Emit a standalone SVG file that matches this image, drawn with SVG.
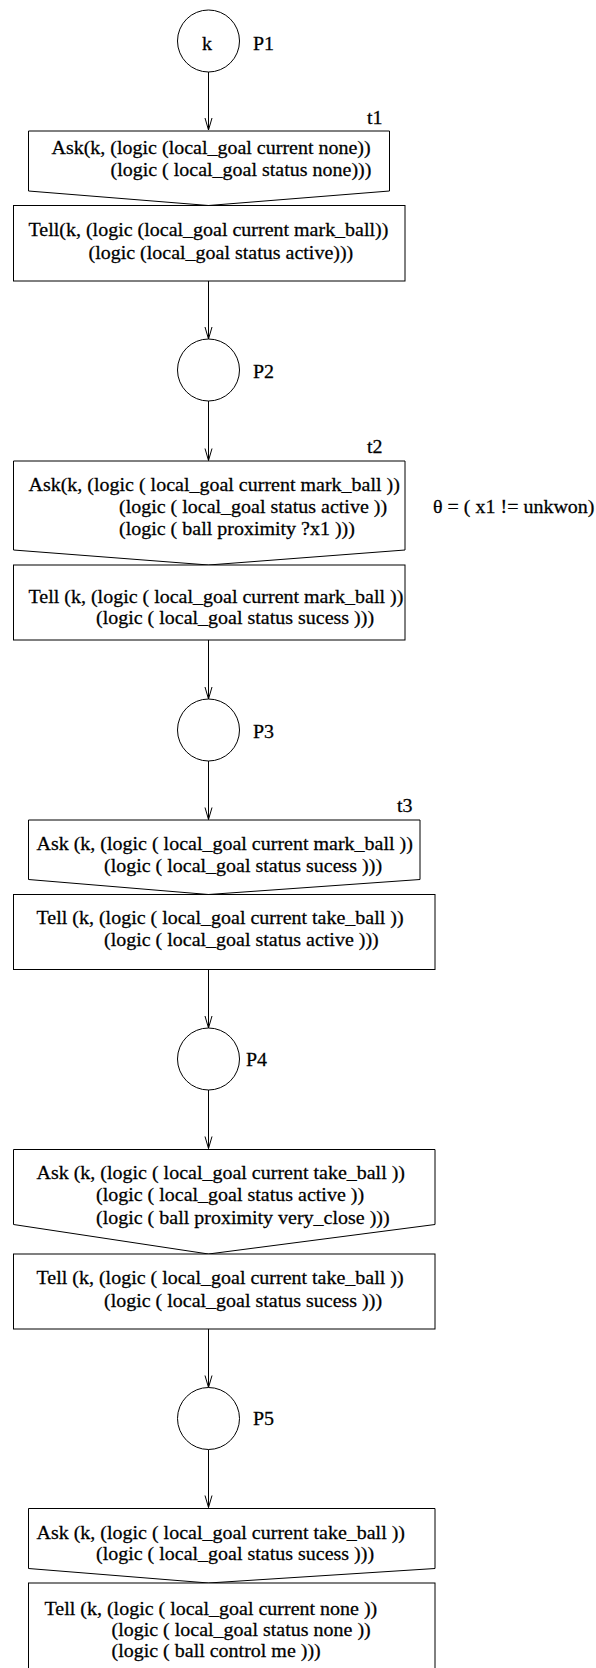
<svg xmlns="http://www.w3.org/2000/svg" width="596" height="1668" viewBox="0 0 596 1668">
<style>
  .t { font-family: "Liberation Serif", "Times New Roman", serif; font-size: 18px; fill: #000; stroke: #000; stroke-width: 0.25; }
  .shape { fill: #fff; stroke: #000; stroke-width: 1; }
  .conn { stroke: #000; stroke-width: 1; fill: none; marker-end: url(#arr); }
</style>
<defs>
  <marker id="arr" markerUnits="userSpaceOnUse" markerWidth="14" markerHeight="10" viewBox="-13 -5 14 10" refX="0" refY="0" orient="auto">
    <path d="M -12 -3.5 L 0 0 L -12 3.5" fill="none" stroke="#000" stroke-width="1"/>
  </marker>
</defs>
<rect width="596" height="1668" fill="#fff"/>

<g id="connectors">
  <line class="conn" x1="208.5" y1="72" x2="208.5" y2="130"/>
  <line class="conn" x1="208.5" y1="281" x2="208.5" y2="339"/>
  <line class="conn" x1="208.5" y1="401" x2="208.5" y2="460.5"/>
  <line class="conn" x1="208.5" y1="640" x2="208.5" y2="699"/>
  <line class="conn" x1="208.5" y1="761" x2="208.5" y2="819.5"/>
  <line class="conn" x1="208.5" y1="969.5" x2="208.5" y2="1028"/>
  <line class="conn" x1="208.5" y1="1090" x2="208.5" y2="1148.5"/>
  <line class="conn" x1="208.5" y1="1329" x2="208.5" y2="1387.5"/>
  <line class="conn" x1="208.5" y1="1449.5" x2="208.5" y2="1507.5"/>
</g>

<g id="P1">
  <circle class="shape" cx="208.5" cy="41" r="31"/>
  <text class="t" transform="matrix(1.111 0 0 1 202 49.5)">k</text>
  <text class="t" transform="matrix(1.111 0 0 1 253 49.5)">P1</text>
</g>

<g id="t1">
  <text class="t" transform="matrix(1.111 0 0 1 367 123.5)">t1</text>
  <path class="shape" d="M 28.5 131 L 389.5 131 L 389.5 191 L 208.5 205.5 L 28.5 191 Z"/>
  <text class="t" transform="matrix(1.111 0 0 1 51.5 154)">Ask(k, (logic (local_goal current none))</text>
  <text class="t" transform="matrix(1.111 0 0 1 110.5 176)">(logic ( local_goal status none)))</text>
  <rect class="shape" x="13.5" y="205.5" width="391.5" height="75.5"/>
  <text class="t" transform="matrix(1.111 0 0 1 28.5 236)">Tell(k, (logic (local_goal current mark_ball))</text>
  <text class="t" transform="matrix(1.111 0 0 1 88.5 258.5)">(logic (local_goal status active)))</text>
</g>

<g id="P2">
  <circle class="shape" cx="208.5" cy="370" r="31"/>
  <text class="t" transform="matrix(1.111 0 0 1 253 377.5)">P2</text>
</g>

<g id="t2">
  <text class="t" transform="matrix(1.111 0 0 1 367 453)">t2</text>
  <path class="shape" d="M 13.5 461 L 405 461 L 405 550 L 208.5 565 L 13.5 550 Z"/>
  <text class="t" transform="matrix(1.111 0 0 1 28.5 491)">Ask(k, (logic ( local_goal current mark_ball ))</text>
  <text class="t" transform="matrix(1.111 0 0 1 119 513)">(logic ( local_goal status active ))</text>
  <text class="t" transform="matrix(1.111 0 0 1 119 534.5)">(logic ( ball proximity ?x1 )))</text>
  <rect class="shape" x="13.5" y="565" width="391.5" height="75"/>
  <text class="t" transform="matrix(1.111 0 0 1 28.5 602.5)">Tell (k, (logic ( local_goal current mark_ball ))</text>
  <text class="t" transform="matrix(1.111 0 0 1 96 624)">(logic ( local_goal status sucess )))</text>
  <text class="t" transform="matrix(1.111 0 0 1 433 513)">θ = ( x1 != unkwon)</text>
</g>

<g id="P3">
  <circle class="shape" cx="208.5" cy="730" r="31"/>
  <text class="t" transform="matrix(1.111 0 0 1 253 737.5)">P3</text>
</g>

<g id="t3">
  <text class="t" transform="matrix(1.111 0 0 1 397 812)">t3</text>
  <path class="shape" d="M 28.5 820 L 420 820 L 420 879.5 L 208.5 894.5 L 28.5 879.5 Z"/>
  <text class="t" transform="matrix(1.111 0 0 1 36.5 849.5)">Ask (k, (logic ( local_goal current mark_ball ))</text>
  <text class="t" transform="matrix(1.111 0 0 1 104 871.5)">(logic ( local_goal status sucess )))</text>
  <rect class="shape" x="13.5" y="894.5" width="421.5" height="75"/>
  <text class="t" transform="matrix(1.111 0 0 1 36.5 924)">Tell (k, (logic ( local_goal current take_ball ))</text>
  <text class="t" transform="matrix(1.111 0 0 1 104 946)">(logic ( local_goal status active )))</text>
</g>

<g id="P4">
  <circle class="shape" cx="208.5" cy="1059" r="31"/>
  <text class="t" transform="matrix(1.111 0 0 1 246 1066)">P4</text>
</g>

<g id="t4">
  <path class="shape" d="M 13.5 1149.5 L 435 1149.5 L 435 1224.5 L 208.5 1254 L 13.5 1224.5 Z"/>
  <text class="t" transform="matrix(1.111 0 0 1 36.5 1179)">Ask (k, (logic ( local_goal current take_ball ))</text>
  <text class="t" transform="matrix(1.111 0 0 1 96 1201)">(logic ( local_goal status active ))</text>
  <text class="t" transform="matrix(1.111 0 0 1 96 1223.5)">(logic ( ball proximity very_close )))</text>
  <rect class="shape" x="13.5" y="1254" width="421.5" height="75"/>
  <text class="t" transform="matrix(1.111 0 0 1 36.5 1283.5)">Tell (k, (logic ( local_goal current take_ball ))</text>
  <text class="t" transform="matrix(1.111 0 0 1 104 1306.5)">(logic ( local_goal status sucess )))</text>
</g>

<g id="P5">
  <circle class="shape" cx="208.5" cy="1418.5" r="31"/>
  <text class="t" transform="matrix(1.111 0 0 1 253 1425)">P5</text>
</g>

<g id="t5">
  <path class="shape" d="M 28.5 1508.5 L 435 1508.5 L 435 1568.5 L 208.5 1583 L 28.5 1568.5 Z"/>
  <text class="t" transform="matrix(1.111 0 0 1 36.5 1538.5)">Ask (k, (logic ( local_goal current take_ball ))</text>
  <text class="t" transform="matrix(1.111 0 0 1 96 1560)">(logic ( local_goal status sucess )))</text>
  <rect class="shape" x="28.5" y="1583" width="406.5" height="90" stroke-width="1.4"/>
  <text class="t" transform="matrix(1.111 0 0 1 44.5 1614.5)">Tell (k, (logic ( local_goal current none ))</text>
  <text class="t" transform="matrix(1.111 0 0 1 111.5 1636)">(logic ( local_goal status none ))</text>
  <text class="t" transform="matrix(1.111 0 0 1 111.5 1657)">(logic ( ball control me )))</text>
</g>
</svg>
